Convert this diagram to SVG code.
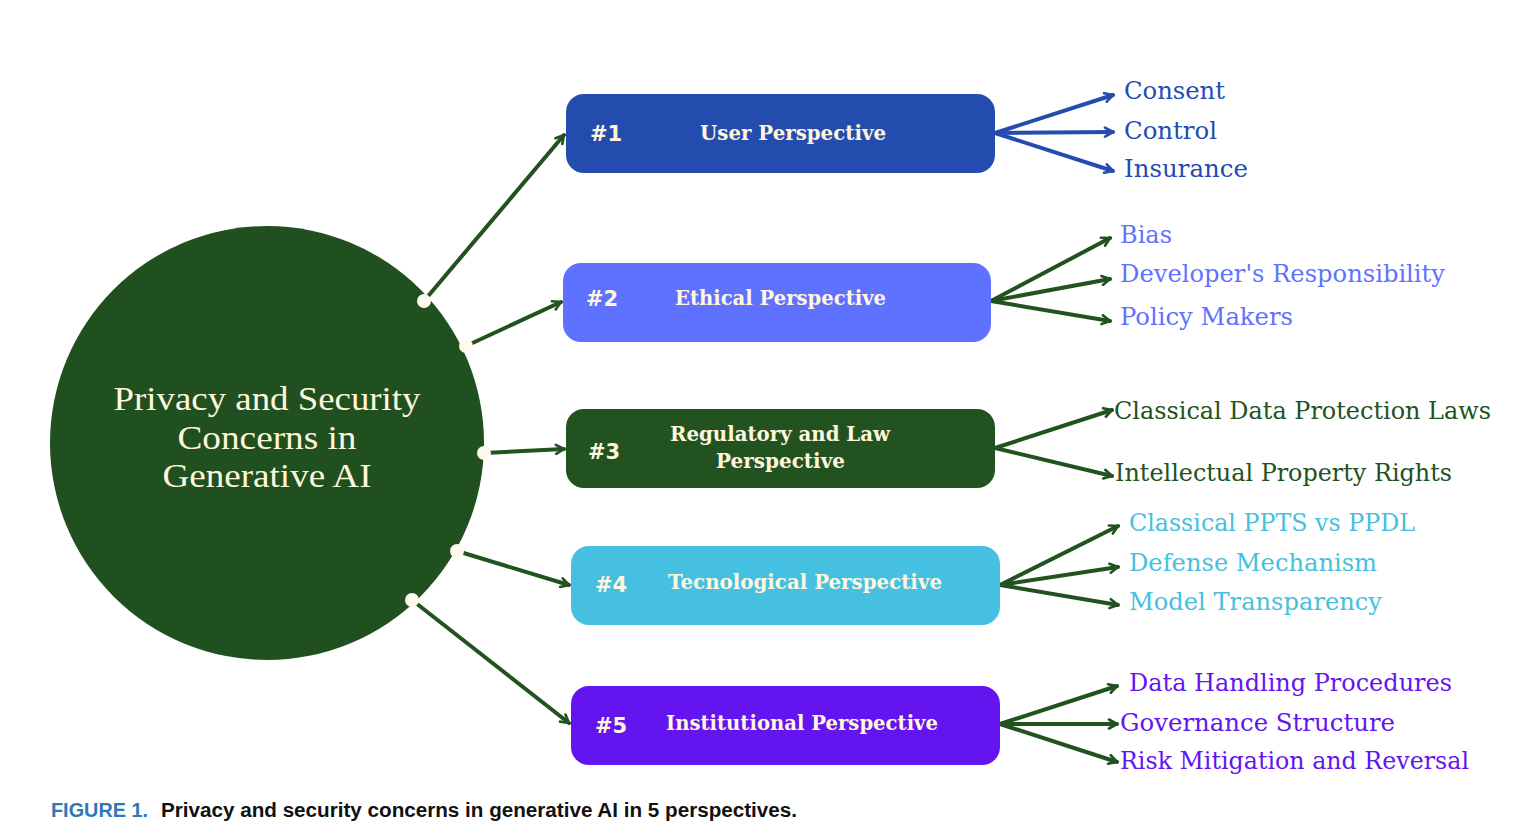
<svg xmlns="http://www.w3.org/2000/svg" width="1525" height="826" viewBox="0 0 1525 826">
<defs>
<style>
.box-label{font-family:"DejaVu Serif","Liberation Serif",serif;font-size:21px;font-weight:bold;fill:#FFF6DE;text-anchor:middle}
.num{font-family:"DejaVu Sans","Liberation Sans",sans-serif;font-size:21px;font-weight:bold;fill:#FFF6DE}
.item{font-family:"DejaVu Serif","Liberation Serif",serif;font-size:25px}
.center{font-family:"Liberation Serif","DejaVu Serif",serif;font-size:34px;fill:#FFF6DE;text-anchor:middle}
.conn{fill:none;stroke:#215220;stroke-width:4;stroke-linecap:round}
.conn-blue{fill:none;stroke:#244CAF;stroke-width:4;stroke-linecap:round}
.dot{fill:#FFFAEE}
</style>
<marker id="arrG" viewBox="0 0 12 12" refX="10" refY="6" markerWidth="12" markerHeight="12" markerUnits="userSpaceOnUse" orient="auto">
<path d="M2,1.5 L10,6 L2,10.5" fill="none" stroke="#215220" stroke-width="2.6" stroke-linecap="round" stroke-linejoin="round"/>
</marker>
<marker id="arrB" viewBox="0 0 12 12" refX="10" refY="6" markerWidth="12" markerHeight="12" markerUnits="userSpaceOnUse" orient="auto">
<path d="M2,1.5 L10,6 L2,10.5" fill="none" stroke="#244CAF" stroke-width="2.6" stroke-linecap="round" stroke-linejoin="round"/>
</marker>
</defs>
<rect width="1525" height="826" fill="#FFFFFF"/>

<g id="center-node">
<circle cx="267" cy="443" r="217" fill="#215020"/>
<text class="center" x="267" y="410" textLength="307" lengthAdjust="spacingAndGlyphs">Privacy and Security</text>
<text class="center" x="267" y="449" textLength="179" lengthAdjust="spacingAndGlyphs">Concerns in</text>
<text class="center" x="267" y="487" textLength="209" lengthAdjust="spacingAndGlyphs">Generative  AI</text>
</g>

<g id="connectors">
<line class="conn" x1="424" y1="301" x2="564" y2="135" marker-end="url(#arrG)"/>
<line class="conn" x1="466" y1="346" x2="561" y2="302" marker-end="url(#arrG)"/>
<line class="conn" x1="484" y1="453" x2="564" y2="449" marker-end="url(#arrG)"/>
<line class="conn" x1="457" y1="551" x2="569" y2="585" marker-end="url(#arrG)"/>
<line class="conn" x1="412" y1="600" x2="569" y2="723" marker-end="url(#arrG)"/>

<line class="conn-blue" x1="995" y1="133" x2="1113" y2="95" marker-end="url(#arrB)"/>
<line class="conn-blue" x1="995" y1="133" x2="1113" y2="132" marker-end="url(#arrB)"/>
<line class="conn-blue" x1="995" y1="133" x2="1113" y2="171" marker-end="url(#arrB)"/>

<line class="conn" x1="991" y1="301" x2="1110" y2="238" marker-end="url(#arrG)"/>
<line class="conn" x1="991" y1="301" x2="1110" y2="279" marker-end="url(#arrG)"/>
<line class="conn" x1="991" y1="301" x2="1110" y2="321" marker-end="url(#arrG)"/>

<line class="conn" x1="995" y1="448" x2="1112" y2="410" marker-end="url(#arrG)"/>
<line class="conn" x1="995" y1="448" x2="1112" y2="476" marker-end="url(#arrG)"/>

<line class="conn" x1="1000" y1="585" x2="1118" y2="526" marker-end="url(#arrG)"/>
<line class="conn" x1="1000" y1="585" x2="1118" y2="567" marker-end="url(#arrG)"/>
<line class="conn" x1="1000" y1="585" x2="1118" y2="605" marker-end="url(#arrG)"/>

<line class="conn" x1="1000" y1="724" x2="1117" y2="686" marker-end="url(#arrG)"/>
<line class="conn" x1="1000" y1="724" x2="1117" y2="724" marker-end="url(#arrG)"/>
<line class="conn" x1="1000" y1="724" x2="1117" y2="762" marker-end="url(#arrG)"/>

<circle class="dot" cx="424" cy="301" r="7"/>
<circle class="dot" cx="466" cy="346" r="7"/>
<circle class="dot" cx="484" cy="453" r="7"/>
<circle class="dot" cx="457" cy="551" r="7"/>
<circle class="dot" cx="412" cy="600" r="7"/>
</g>

<g id="node-1">
<rect x="566" y="94" width="429" height="79" rx="18" fill="#244CAF"/>
<text class="num" x="590" y="141">#1</text>
<text class="box-label" x="793" y="140" textLength="186" lengthAdjust="spacingAndGlyphs">User Perspective</text>
</g>
<g id="node-2">
<rect x="563" y="263" width="428" height="79" rx="18" fill="#5F72FF"/>
<text class="num" x="586" y="306">#2</text>
<text class="box-label" x="780.5" y="305" textLength="211" lengthAdjust="spacingAndGlyphs">Ethical Perspective</text>
</g>
<g id="node-3">
<rect x="566" y="409" width="429" height="79" rx="18" fill="#215220"/>
<text class="num" x="588" y="459">#3</text>
<text class="box-label" x="780" y="441" textLength="220" lengthAdjust="spacingAndGlyphs">Regulatory and Law</text>
<text class="box-label" x="780.5" y="468" textLength="129" lengthAdjust="spacingAndGlyphs">Perspective</text>
</g>
<g id="node-4">
<rect x="571" y="546" width="429" height="79" rx="18" fill="#45C0E0"/>
<text class="num" x="595" y="592">#4</text>
<text class="box-label" x="805" y="589" textLength="274" lengthAdjust="spacingAndGlyphs">Tecnological Perspective</text>
</g>
<g id="node-5">
<rect x="571" y="686" width="429" height="79" rx="18" fill="#6414EF"/>
<text class="num" x="595" y="733">#5</text>
<text class="box-label" x="802" y="730" textLength="272" lengthAdjust="spacingAndGlyphs">Institutional Perspective</text>
</g>

<g id="items-1" fill="#244CAF">
<text class="item" x="1124" y="99" textLength="101" lengthAdjust="spacingAndGlyphs">Consent</text>
<text class="item" x="1124" y="139" textLength="93" lengthAdjust="spacingAndGlyphs">Control</text>
<text class="item" x="1124" y="177" textLength="124" lengthAdjust="spacingAndGlyphs">Insurance</text>
</g>
<g id="items-2" fill="#5F72FF">
<text class="item" x="1120" y="243" textLength="52" lengthAdjust="spacingAndGlyphs">Bias</text>
<text class="item" x="1120" y="282" textLength="325" lengthAdjust="spacingAndGlyphs">Developer's Responsibility</text>
<text class="item" x="1120" y="325" textLength="173" lengthAdjust="spacingAndGlyphs">Policy Makers</text>
</g>
<g id="items-3" fill="#215220">
<text class="item" x="1114" y="419" textLength="377" lengthAdjust="spacingAndGlyphs">Classical Data Protection Laws</text>
<text class="item" x="1115" y="481" textLength="337" lengthAdjust="spacingAndGlyphs">Intellectual Property Rights</text>
</g>
<g id="items-4" fill="#45C0E0">
<text class="item" x="1129" y="531" textLength="286" lengthAdjust="spacingAndGlyphs">Classical PPTS vs PPDL</text>
<text class="item" x="1129" y="571" textLength="248" lengthAdjust="spacingAndGlyphs">Defense Mechanism</text>
<text class="item" x="1129" y="610" textLength="253" lengthAdjust="spacingAndGlyphs">Model Transparency</text>
</g>
<g id="items-5" fill="#6414EF">
<text class="item" x="1129" y="691" textLength="323" lengthAdjust="spacingAndGlyphs">Data Handling Procedures</text>
<text class="item" x="1120" y="731" textLength="275" lengthAdjust="spacingAndGlyphs">Governance Structure</text>
<text class="item" x="1120" y="769" textLength="349" lengthAdjust="spacingAndGlyphs">Risk Mitigation and Reversal</text>
</g>

<g id="caption" font-family="'Liberation Sans','DejaVu Sans',sans-serif" font-weight="bold" font-size="20">
<text x="51" y="817" fill="#2E78B8" textLength="97" lengthAdjust="spacingAndGlyphs">FIGURE 1.</text>
<text x="161" y="817" fill="#111111" textLength="636" lengthAdjust="spacingAndGlyphs">Privacy and security concerns in generative AI in 5 perspectives.</text>
</g>
</svg>
